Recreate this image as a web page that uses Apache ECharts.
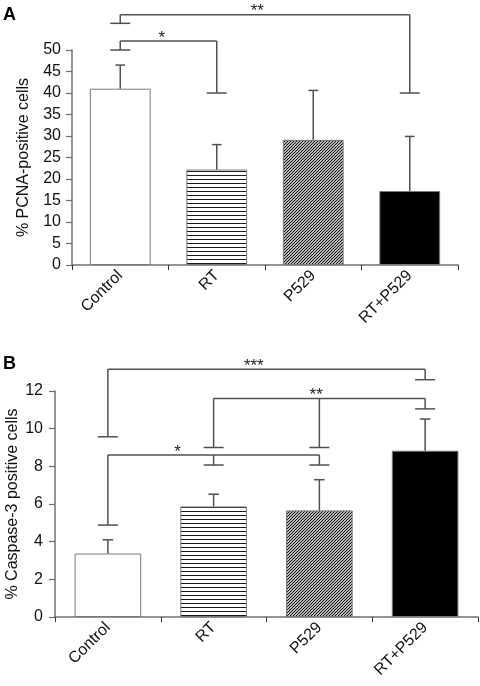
<!DOCTYPE html>
<html>
<head>
<meta charset="utf-8">
<script src="https://cdn.jsdelivr.net/npm/echarts@6/dist/echarts.min.js"></script>
<style>
html,body{margin:0;padding:0;background:#fff;}
#chart{width:480px;height:686px;}
</style>
</head>
<body>
<div id="chart"></div>
<script>
// ---- data ----
const categories = ['Control', 'RT', 'P529', 'RT+P529'];

const pcnaMean = [41.0, 22.2, 29.1, 17.2];
const pcnaSD = [5.5, 5.8, 11.5, 12.7];
const pcnaTicks = { min: 0, max: 50, interval: 5 };

const caspMean = [3.37, 5.87, 5.66, 8.83];
const caspSD = [0.73, 0.65, 1.63, 1.68];
const caspTicks = { min: 0, max: 12, interval: 2 };

// significance brackets: horizontal level, drops [category, cap value], label, label position (category units)
const pcnaBrackets = [
  { level: 52.1, drops: [[0, 50], [1, 40]], label: '*', at: 0.43 },
  { level: 58.2, drops: [[0, 56.2], [3, 40]], label: '**', at: 1.42 }
];
const caspBrackets = [
  { level: 13.16, drops: [[0, 9.57], [3, 12.6]], label: '***', at: 1.38 },
  { level: 11.6, drops: [[1, 9.0], [2, 9.0], [3, 11.05]], label: '**', at: 1.97 },
  { level: 8.6, drops: [[0, 4.88], [1, 8.07], [2, 8.07]], label: '*', at: 0.66 }
];

// ---- styles ----
const FONT = "'Liberation Sans', Arial, Helvetica, sans-serif";
const AXIS_COLOR = '#707070';
const LINE_COLOR = '#505050';

function hPattern() {
  const c = document.createElement('canvas');
  c.width = 4; c.height = 4;
  const g = c.getContext('2d');
  g.fillStyle = '#fff'; g.fillRect(0, 0, 4, 4);
  g.fillStyle = '#1a1a1a'; g.fillRect(0, 3, 4, 1);
  return c;
}
function dPattern() {
  const s = 3;
  const c = document.createElement('canvas');
  c.width = s; c.height = s;
  const g = c.getContext('2d');
  g.fillStyle = '#fff'; g.fillRect(0, 0, s, s);
  g.strokeStyle = '#111'; g.lineWidth = 1.2;
  for (let k = -1; k <= 1; k++) {
    g.beginPath();
    g.moveTo(k * s - 1, s + 1);
    g.lineTo(k * s + s + 1, -1);
    g.stroke();
  }
  return c;
}
const barFills = [
  '#ffffff',
  { image: hPattern(), repeat: 'repeat' },
  { image: dPattern(), repeat: 'repeat' },
  '#000000'
];

function barData(values) {
  return values.map((v, i) => ({
    value: v,
    itemStyle: { color: barFills[i], borderColor: '#7a7a7a', borderWidth: 1 }
  }));
}

function errorSeries(idx, mean, sd) {
  return {
    type: 'custom',
    xAxisIndex: idx, yAxisIndex: idx,
    z: 5,
    clip: false,
    data: mean.map((m, i) => [i, m, m + sd[i]]),
    renderItem: function (params, api) {
      const i = api.value(0);
      const p0 = api.coord([i, api.value(1)]);
      const p1 = api.coord([i, api.value(2)]);
      const half = api.size([1, 0])[0] * 0.05;
      const style = { stroke: LINE_COLOR, lineWidth: 1.5, fill: null };
      return {
        type: 'group',
        children: [
          { type: 'line', shape: { x1: p0[0], y1: p0[1], x2: p1[0], y2: p1[1] }, style: style },
          { type: 'line', shape: { x1: p1[0] - half, y1: p1[1], x2: p1[0] + half, y2: p1[1] }, style: style }
        ]
      };
    }
  };
}

function bracketSeries(idx, brackets) {
  return {
    type: 'custom',
    xAxisIndex: idx, yAxisIndex: idx,
    z: 6,
    clip: false,
    data: brackets.map((b, i) => [b.drops[0][0], b.level, i]),
    renderItem: function (params, api) {
      const b = brackets[params.dataIndex];
      const style = { stroke: LINE_COLOR, lineWidth: 1.5, fill: null };
      const half = 10;
      const children = [];
      const xs = b.drops.map(d => api.coord([d[0], b.level])[0]);
      const yL = api.coord([0, b.level])[1];
      children.push({ type: 'line', shape: { x1: Math.min(...xs), y1: yL, x2: Math.max(...xs), y2: yL }, style: style });
      b.drops.forEach(d => {
        const x = api.coord([d[0], b.level])[0];
        const yc = api.coord([d[0], d[1]])[1];
        children.push({ type: 'line', shape: { x1: x, y1: yL, x2: x, y2: yc }, style: style });
        children.push({ type: 'line', shape: { x1: x - half, y1: yc, x2: x + half, y2: yc }, style: style });
      });
      const c0 = api.coord([0, b.level])[0];
      const c1 = api.coord([1, b.level])[0];
      const lx = c0 + (c1 - c0) * b.at;
      children.push({
        type: 'text',
        style: {
          x: lx, y: yL - 3, text: b.label,
          textAlign: 'center', textVerticalAlign: 'middle',
          font: '17px ' + FONT, fill: '#222'
        }
      });
      return { type: 'group', children: children };
    }
  };
}

function xAxisCfg(idx) {
  return {
    type: 'category', gridIndex: idx, data: categories,
    axisLine: { lineStyle: { color: AXIS_COLOR, width: 1.5 } },
    axisTick: { show: true, length: 5, lineStyle: { color: '#333', width: 1 } },
    axisLabel: { rotate: 45, fontSize: 16, fontFamily: FONT, color: '#111', margin: 8 },
    splitLine: { show: false }
  };
}
function yAxisCfg(idx, ticks, name, gap, margin) {
  return {
    type: 'value', gridIndex: idx,
    min: ticks.min, max: ticks.max, interval: ticks.interval,
    name: name, nameLocation: 'middle', nameRotate: 90, nameGap: gap,
    nameMoveOverlap: false,
    nameTextStyle: { fontSize: 16, fontFamily: FONT, color: '#111' },
    axisLine: { show: true, lineStyle: { color: AXIS_COLOR, width: 1.5 } },
    axisTick: { show: true, length: 6, lineStyle: { color: AXIS_COLOR, width: 1.2 } },
    axisLabel: { fontSize: 16, fontFamily: FONT, color: '#111', margin: margin },
    splitLine: { show: false }
  };
}

const chart = echarts.init(document.getElementById('chart'), null, { renderer: 'canvas' });
chart.setOption({
  animation: false,
  backgroundColor: '#fff',
  grid: [
    { left: 72, top: 50, width: 386, height: 215, containLabel: false, outerBoundsMode: 'none' },
    { left: 55, top: 391, width: 423, height: 226, containLabel: false, outerBoundsMode: 'none' }
  ],
  xAxis: [xAxisCfg(0), xAxisCfg(1)],
  yAxis: [
    yAxisCfg(0, pcnaTicks, '% PCNA-positive cells', 40, 11),
    yAxisCfg(1, caspTicks, '% Caspase-3 positive cells', 34, 12)
  ],
  graphic: [
    { type: 'text', left: 3, top: 6, style: { text: 'A', font: 'bold 18px ' + FONT, fill: '#000' } },
    { type: 'text', left: 3, top: 355, style: { text: 'B', font: 'bold 18px ' + FONT, fill: '#000' } }
  ],
  series: [
    { type: 'bar', xAxisIndex: 0, yAxisIndex: 0, barWidth: '63%', data: barData(pcnaMean), z: 2 },
    errorSeries(0, pcnaMean, pcnaSD),
    bracketSeries(0, pcnaBrackets),
    { type: 'bar', xAxisIndex: 1, yAxisIndex: 1, barWidth: '63%', data: barData(caspMean), z: 2 },
    errorSeries(1, caspMean, caspSD),
    bracketSeries(1, caspBrackets)
  ]
});
</script>
</body>
</html>
